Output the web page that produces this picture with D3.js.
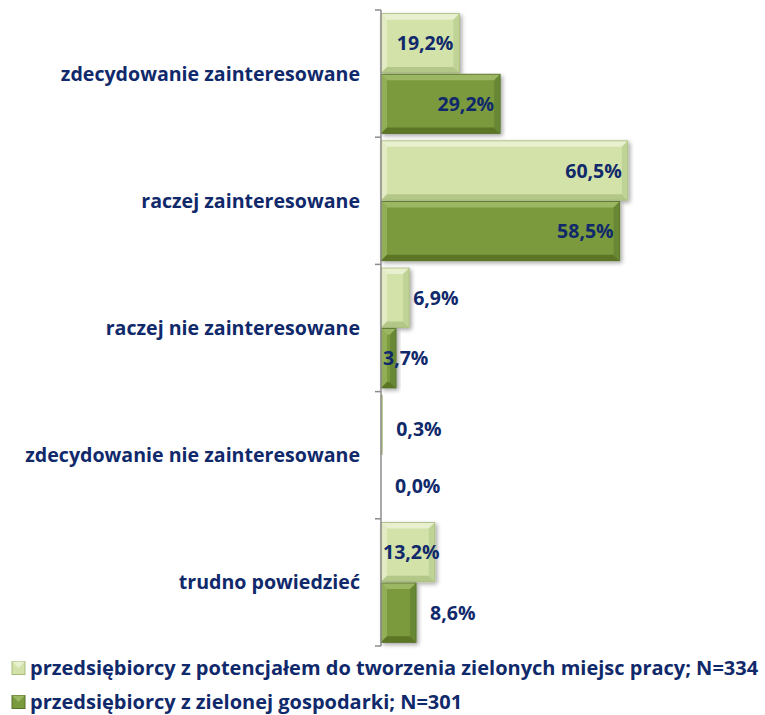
<!DOCTYPE html>
<html>
<head>
<meta charset="utf-8">
<script src="https://cdn.jsdelivr.net/npm/d3@7"></script>
<style>
  body { margin: 0; background: #fff; }
  svg { display: block; }
  text { font-family: "Open Sans", sans-serif; font-weight: 700; fill: #10296b; }
</style>
</head>
<body>
<svg id="chart" width="765" height="715"></svg>
<script>
var categories = [
  'zdecydowanie zainteresowane',
  'raczej zainteresowane',
  'raczej nie zainteresowane',
  'zdecydowanie nie zainteresowane',
  'trudno powiedzieć'
];
var seriesNames = [
  'przedsiębiorcy z potencjałem do tworzenia zielonych miejsc pracy; N=334',
  'przedsiębiorcy z zielonej gospodarki; N=301'
];
var potencjal = [19.2, 60.5, 6.9, 0.3, 13.2];
var zielona = [29.2, 58.5, 3.7, 0.0, 8.6];

var fmt = function(v) { return v.toFixed(1).replace('.', ',') + '%'; };

var svg = d3.select('#chart');
var x0 = 381;

var x = d3.scaleLinear().domain([0, 100]).range([x0, x0 + 408]);
var y = d3.scaleBand().domain(categories).range([10, 646]);
var ySub = d3.scaleBand().domain([0, 1]).range([0, y.bandwidth()])
  .paddingInner(0.02).paddingOuter(0.06);

var styles = [
  { face: '#d2e2a9', hi: '#e8f0cf', lo: '#b3c789', side: '#c0d396', edge: '#a6bb78' },
  { face: '#7a9a3e', hi: '#9cb763', lo: '#5b7628', side: '#688834', edge: '#56712a' }
];

var defs = svg.append('defs');
var f = defs.append('filter').attr('id', 'shadow')
  .attr('x', '-20%').attr('y', '-20%').attr('width', '150%').attr('height', '150%');
f.append('feGaussianBlur').attr('in', 'SourceAlpha').attr('stdDeviation', 2);
f.append('feOffset').attr('dx', 2).attr('dy', 2).attr('result', 'b');
f.append('feComponentTransfer').append('feFuncA').attr('type', 'linear').attr('slope', 0.35);
var m = f.append('feMerge');
m.append('feMergeNode');
m.append('feMergeNode').attr('in', 'SourceGraphic');

function bevelBar(g, bx, by, bw, bh, st) {
  if (bw <= 0) return;
  var b = Math.min(6, bw / 2, bh / 2);
  var grp = g.append('g').attr('filter', bw > 3 ? 'url(#shadow)' : null);
  grp.append('rect').attr('x', bx).attr('y', by).attr('width', bw).attr('height', bh)
    .attr('fill', st.face);
  var pts = function(a) { return a.map(function(p) { return p.join(','); }).join(' '); };
  grp.append('polygon').attr('fill', st.hi)
    .attr('points', pts([[bx, by], [bx + bw, by], [bx + bw - b, by + b], [bx + b, by + b]]));
  grp.append('polygon').attr('fill', st.hi).attr('opacity', 0.7)
    .attr('points', pts([[bx, by], [bx + b, by + b], [bx + b, by + bh - b], [bx, by + bh]]));
  grp.append('polygon').attr('fill', st.lo)
    .attr('points', pts([[bx, by + bh], [bx + b, by + bh - b], [bx + bw - b, by + bh - b], [bx + bw, by + bh]]));
  grp.append('polygon').attr('fill', st.side)
    .attr('points', pts([[bx + bw, by], [bx + bw, by + bh], [bx + bw - b, by + bh - b], [bx + bw - b, by + b]]));
  grp.append('rect').attr('x', bx).attr('y', by).attr('width', bw).attr('height', bh)
    .attr('fill', 'none').attr('stroke', st.edge).attr('stroke-width', 0.8);
}

var series = [potencjal, zielona];
// label placement tweaks (matching the original chart's hand-placed labels)
var labelMode = [
  ['in', 'in', 'out', 'out', 'base'],
  ['in', 'in', 'base', 'out', 'out']
];

var barsG = svg.append('g');
var labelsG = svg.append('g');

categories.forEach(function(c, i) {
  series.forEach(function(s, k) {
    var v = s[i];
    var by = y(c) + ySub(k);
    var bh = ySub.bandwidth();
    bevelBar(barsG, x(0), by, x(v) - x(0), bh, styles[k]);
    var mode = labelMode[k][i];
    var t = labelsG.append('text')
      .attr('y', by + bh / 2 + (v < 1 && k === 0 ? 4 : 0))
      .attr('dy', '0.36em')
      .style('font-size', '19.5px')
      .text(fmt(v));
    if (mode === 'in') {
      t.attr('x', x(v) - 6).attr('text-anchor', 'end');
    } else if (mode === 'base') {
      t.attr('x', x(0) + 2).attr('text-anchor', 'start');
    } else {
      t.attr('x', x(v) + (v < 5 || v > 8 ? 14 : 4)).attr('text-anchor', 'start');
    }
  });
});

// axis
svg.append('line').attr('x1', x0).attr('x2', x0).attr('y1', 10).attr('y2', 646)
  .attr('stroke', '#8c8c8c').attr('stroke-width', 1.5);
var tickYs = categories.map(function(c) { return y(c); }).concat([y.range()[1]]);
svg.selectAll('.tick').data(tickYs).enter().append('line')
  .attr('x1', x0 - 6).attr('x2', x0).attr('y1', function(d) { return d; }).attr('y2', function(d) { return d; })
  .attr('stroke', '#8c8c8c').attr('stroke-width', 1.5);

svg.selectAll('.cat').data(categories).enter().append('text')
  .attr('x', 360)
  .attr('y', function(d) { return y(d) + y.bandwidth() / 2; })
  .attr('dy', '0.36em')
  .attr('text-anchor', 'end')
  .style('font-size', '19.6px')
  .text(function(d) { return d; });

// legend
var leg = svg.append('g');
seriesNames.forEach(function(name, k) {
  var ly = 668 + k * 34;
  var st = styles[k];
  var s0 = 12, sz = 13;
  leg.append('rect').attr('x', s0).attr('y', ly - sz / 2).attr('width', sz).attr('height', sz)
    .attr('fill', st.face).attr('stroke', st.edge).attr('stroke-width', 1);
  leg.append('polygon')
    .attr('points', [[s0, ly - sz / 2], [s0 + sz, ly - sz / 2], [s0 + sz / 2, ly]].map(function(p) { return p.join(','); }).join(' '))
    .attr('fill', st.hi);
  leg.append('text').attr('x', 30).attr('y', ly).attr('dy', '0.36em')
    .style('font-size', '20px').text(name);
});
</script>
</body>
</html>
